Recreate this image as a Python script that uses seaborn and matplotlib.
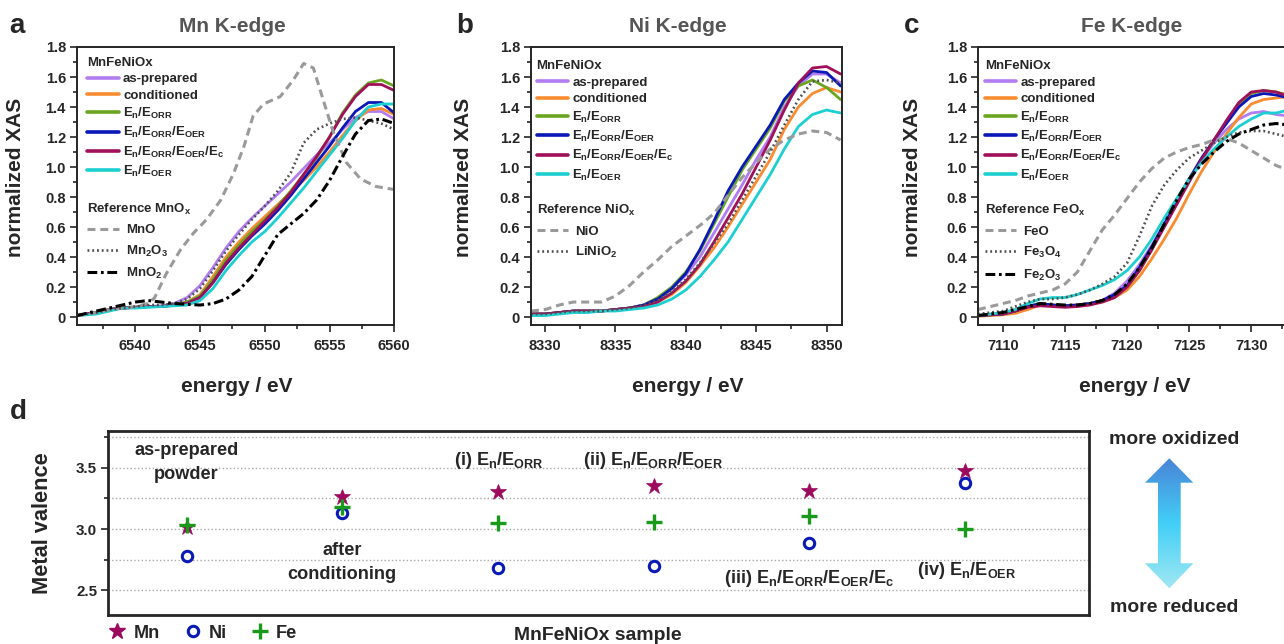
import numpy as np
import seaborn as sns
import matplotlib.pyplot as plt
from matplotlib import font_manager
from matplotlib.lines import Line2D
from matplotlib.patches import Polygon
from matplotlib.ticker import MultipleLocator, FuncFormatter
from matplotlib.colors import LinearSegmentedColormap

sns.set_theme(style="ticks")
plt.rcParams['font.family'] = ['Liberation Sans', 'DejaVu Sans']
plt.rcParams['font.weight'] = 'bold'
plt.rcParams['axes.labelweight'] = 'bold'

# narrow font for panel d (Arial Narrow look-alike if present)
_names = {f.name for f in font_manager.fontManager.ttflist}
if 'Liberation Sans Narrow' in _names:
    D_FAMILY, D_SCALE = ['Liberation Sans Narrow', 'DejaVu Sans'], 1.0
else:
    D_FAMILY, D_SCALE = ['Liberation Sans', 'DejaVu Sans'], 0.87

W, H = 1284, 644

# ---------------- data ----------------
sample_labels = ['as-prepared', 'conditioned',
                 r'E$_\mathregular{n}$/E$_\mathregular{ORR}$',
                 r'E$_\mathregular{n}$/E$_\mathregular{ORR}$/E$_\mathregular{OER}$',
                 r'E$_\mathregular{n}$/E$_\mathregular{ORR}$/E$_\mathregular{OER}$/E$_\mathregular{c}$',
                 r'E$_\mathregular{n}$/E$_\mathregular{OER}$']
sample_colors = ['#b27cf2', '#f98c30', '#6aa520', '#0a18b8', '#a0105a', '#1ccfd0']

# Mn K-edge
mn_energy = [6535.5, 6537, 6538, 6539, 6540, 6541, 6542, 6543, 6544, 6545, 6546, 6547, 6548,
             6549, 6550, 6551, 6552, 6553, 6554, 6555, 6556, 6557, 6558, 6559, 6560]
mn_asprep = [.01, .03, .05, .06, .065, .07, .075, .09, .13, .21, .33, .46, .57, .66, .74, .82, .90,
             .99, 1.08, 1.16, 1.25, 1.33, 1.37, 1.37, 1.32]
mn_cond = [.01, .03, .05, .06, .065, .07, .07, .08, .10, .15, .27, .40, .50, .59, .67, .75, .83,
           .91, 1.0, 1.1, 1.21, 1.31, 1.38, 1.39, 1.35]
mn_orr = [.01, .03, .05, .06, .065, .07, .07, .08, .10, .14, .25, .38, .48, .57, .65, .74, .84,
          .95, 1.06, 1.2, 1.36, 1.48, 1.56, 1.58, 1.54]
mn_orr_oer = [.01, .03, .05, .06, .065, .07, .07, .08, .09, .13, .23, .35, .45, .54, .62, .71, .81,
              .92, 1.03, 1.14, 1.26, 1.37, 1.43, 1.43, 1.36]
mn_orr_oer_c = [.01, .03, .05, .06, .065, .07, .07, .08, .09, .13, .23, .36, .46, .55, .64, .73, .83,
                .95, 1.07, 1.2, 1.35, 1.47, 1.55, 1.55, 1.51]
mn_oer = [.01, .02, .04, .06, .06, .065, .07, .075, .08, .11, .19, .31, .41, .50, .57, .66, .76,
          .86, .97, 1.08, 1.19, 1.31, 1.40, 1.42, 1.42]

mno_energy = [6535.5, 6537, 6538, 6539, 6540, 6541, 6541.5, 6542.4, 6543.5, 6544.5, 6545.5, 6546.6,
              6547.6, 6548.4, 6549.1, 6549.9, 6551.2, 6552.2, 6553, 6553.75, 6554.5, 6555.3,
              6556.3, 6557.4, 6558.6, 6560]
mno = [.01, .03, .05, .06, .07, .09, .13, .29, .45, .56, .65, .78, .96, 1.14, 1.34, 1.42, 1.47, 1.58,
       1.69, 1.66, 1.45, 1.23, 1.03, .92, .87, .85]
mn2o3 = [.01, .03, .05, .06, .07, .08, .08, .09, .12, .19, .31, .44, .55, .65, .74, .84, .96, 1.16,
         1.25, 1.29, 1.32, 1.33, 1.31, 1.29, 1.25]
mno2 = [.01, .04, .06, .08, .10, .11, .10, .09, .085, .08, .09, .12, .18, .27, .41, .55, .62, .69,
        .78, .91, 1.07, 1.22, 1.31, 1.32, 1.29]

# Ni K-edge
ni_energy = list(range(8329, 8352))
ni_asprep = [.02, .02, .03, .04, .04, .04, .05, .06, .08, .12, .19, .28, .40, .56, .72, .88, 1.05,
             1.2, 1.4, 1.54, 1.62, 1.62, 1.56]
ni_cond = [.02, .02, .03, .04, .04, .04, .05, .06, .07, .10, .15, .23, .34, .46, .60, .75, .90,
           1.05, 1.25, 1.40, 1.49, 1.53, 1.50]
ni_orr = [.02, .02, .03, .04, .04, .04, .05, .06, .08, .13, .20, .30, .44, .62, .80, .98, 1.12,
          1.26, 1.44, 1.54, 1.58, 1.53, 1.45]
ni_orr_oer = [.02, .02, .03, .04, .04, .04, .05, .06, .08, .12, .19, .29, .45, .64, .84, 1.0, 1.14,
              1.28, 1.45, 1.56, 1.64, 1.63, 1.54]
ni_orr_oer_c = [.02, .02, .03, .04, .04, .04, .05, .06, .07, .10, .16, .24, .35, .50, .66, .82, 1.0,
                1.18, 1.38, 1.56, 1.66, 1.67, 1.62]
ni_oer = [.01, .01, .02, .03, .03, .04, .04, .05, .06, .08, .12, .18, .27, .38, .50, .65, .80,
          .95, 1.12, 1.27, 1.35, 1.38, 1.36]
nio = [.04, .05, .08, .10, .10, .10, .14, .21, .30, .38, .47, .54, .61, .69, .81, .93, 1.03, 1.12,
       1.18, 1.22, 1.24, 1.23, 1.18]
linio2 = [.02, .02, .03, .04, .04, .04, .05, .06, .08, .11, .17, .25, .36, .49, .62, .78, .94, 1.10,
          1.28, 1.45, 1.57, 1.58, 1.56]

# Fe K-edge
fe_energy = list(range(7108, 7134))
fe_asprep = [.01, .015, .02, .04, .07, .09, .08, .075, .08, .09, .11, .16, .24, .35, .48, .62, .77,
             .92, 1.05, 1.16, 1.25, 1.32, 1.36, 1.37, 1.35, 1.34]
fe_cond = [.005, .01, .015, .025, .05, .08, .08, .075, .08, .09, .10, .13, .18, .27, .39, .52, .66,
           .82, .97, 1.1, 1.22, 1.33, 1.42, 1.45, 1.46, 1.47]
fe_orr = [.01, .015, .02, .04, .07, .09, .08, .075, .08, .09, .11, .14, .20, .31, .45, .61, .76,
          .91, 1.05, 1.18, 1.30, 1.42, 1.49, 1.51, 1.50, 1.48]
fe_orr_oer = [.01, .015, .02, .04, .07, .09, .08, .075, .08, .09, .11, .15, .21, .33, .47, .62, .77,
              .92, 1.06, 1.18, 1.29, 1.40, 1.47, 1.49, 1.48, 1.46]
fe_orr_oer_c = [.01, .015, .02, .04, .065, .075, .07, .065, .07, .08, .10, .13, .20, .31, .45, .60,
                .75, .90, 1.05, 1.18, 1.31, 1.43, 1.50, 1.51, 1.50, 1.47]
fe_oer = [.01, .02, .03, .05, .09, .12, .13, .13, .15, .18, .21, .25, .31, .40, .52, .66, .79, .92,
          1.03, 1.12, 1.20, 1.27, 1.32, 1.36, 1.36, 1.38]
feo = [.05, .07, .09, .11, .14, .16, .18, .22, .30, .44, .58, .68, .79, .90, .99, 1.06, 1.10, 1.13,
       1.15, 1.18, 1.19, 1.16, 1.11, 1.06, 1.01, .98]
fe3o4 = [.02, .03, .04, .07, .10, .12, .12, .13, .15, .18, .22, .27, .36, .54, .74, .88, .98, 1.06,
         1.11, 1.16, 1.20, 1.23, 1.24, 1.24, 1.22, 1.20]
fe2o3 = [.01, .02, .03, .05, .07, .09, .085, .08, .08, .09, .11, .15, .22, .33, .46, .62, .78, .92,
         1.02, 1.10, 1.17, 1.22, 1.25, 1.28, 1.29, 1.28]

# panel d: metal valence per sample
sample_pos = [0, 1, 2, 3, 4, 5]
mn_valence = [3.02, 3.26, 3.30, 3.35, 3.31, 3.47]
ni_valence = [2.78, 3.13, 2.68, 2.70, 2.89, 3.38]
fe_valence = [3.03, 3.18, 3.05, 3.06, 3.11, 3.00]
sample_names = ['as-prepared\npowder', 'after\nconditioning',
                r'(i) E$_\mathregular{n}$/E$_\mathregular{ORR}$',
                r'(ii) E$_\mathregular{n}$/E$_\mathregular{ORR}$/E$_\mathregular{OER}$',
                r'(iii) E$_\mathregular{n}$/E$_\mathregular{ORR}$/E$_\mathregular{OER}$/E$_\mathregular{c}$',
                r'(iv) E$_\mathregular{n}$/E$_\mathregular{OER}$']

REF_STYLES = [dict(color='#9a9a9a', lw=2.2, ls=(0, (2.6, 1.6))),
              dict(color='#505050', lw=1.9, ls=(0, (0.7, 1.1))),
              dict(color='black', lw=2.2, ls=(0, (3.2, 1.2, 0.9, 1.2)))]


def fx(x):
    return x / W


def fy(y):
    return 1 - y / H


def xas_panel(ax, energy, samples, ref_energies, refs, ref_names, ref_title,
              xlim, leg_x, leg_y1, leg_y2, ylab_x):
    for vals, col in zip(samples, sample_colors):
        sns.lineplot(x=energy, y=vals, ax=ax, color=col, linewidth=2.0)
    for e, vals, st in zip(ref_energies, refs, REF_STYLES):
        sns.lineplot(x=e, y=vals, ax=ax, color=st['color'], linewidth=st['lw'], linestyle=st['ls'])

    ax.set_xlim(*xlim)
    ax.set_ylim(-0.053, 1.8)
    ax.xaxis.set_major_locator(MultipleLocator(5))
    ax.xaxis.set_minor_locator(MultipleLocator(2.5))
    ax.yaxis.set_major_locator(MultipleLocator(0.2))
    ax.yaxis.set_minor_locator(MultipleLocator(0.1))
    ax.yaxis.set_major_formatter(FuncFormatter(lambda v, _: '0' if abs(v) < 1e-9 else f'{v:.1f}'))
    ax.tick_params(which='both', direction='out', labelsize=10.5, width=1.2)
    ax.tick_params(axis='x', pad=5)
    ax.tick_params(axis='y', pad=3)
    ax.tick_params(which='major', length=5)
    ax.tick_params(which='minor', length=3)
    for s in ax.spines.values():
        s.set_linewidth(1.4)
        s.set_visible(True)
    ax.set_xlabel('energy / eV', fontsize=15)
    ax.set_ylabel('normalized XAS', fontsize=15)
    ax.xaxis.set_label_coords(0.505, -0.187)
    ax.yaxis.set_label_coords(ylab_x, 0.53)

    h1 = [Line2D([], [], color=c, lw=2.6) for c in sample_colors]
    leg1 = ax.legend(h1, sample_labels, title='MnFeNiOx', loc='upper left',
                     bbox_to_anchor=(leg_x, leg_y1), frameon=False, fontsize=9.5,
                     title_fontproperties={'weight': 'bold', 'size': 9.5}, alignment='left',
                     handlelength=2.4, handletextpad=0.3, labelspacing=0.32,
                     borderpad=0, borderaxespad=0)
    ax.add_artist(leg1)
    h2 = [Line2D([], [], color=st['color'], lw=st['lw'], ls=st['ls']) for st in REF_STYLES[:len(refs)]]
    ax.legend(h2, ref_names, title=ref_title, loc='upper left',
              bbox_to_anchor=(leg_x, leg_y2), frameon=False, fontsize=9.5,
              title_fontproperties={'weight': 'bold', 'size': 9.5}, alignment='left',
              handlelength=2.4, handletextpad=0.5, labelspacing=0.55,
              borderpad=0, borderaxespad=0)


fig = plt.figure(figsize=(W / 100, H / 100), dpi=100)

# ---- a: Mn K-edge
ax_a = fig.add_axes([fx(77), fy(325), (394.3 - 77) / W, 278 / H])
xas_panel(ax_a, mn_energy,
          [mn_asprep, mn_cond, mn_orr, mn_orr_oer, mn_orr_oer_c, mn_oer],
          [mno_energy, mn_energy, mn_energy], [mno, mn2o3, mno2],
          ['MnO', r'Mn$_\mathregular{2}$O$_\mathregular{3}$', r'MnO$_\mathregular{2}$'],
          r'Reference MnO$_\mathregular{x}$', (6535.5, 6560), 0.033, 0.965, 0.443, -0.164)

# ---- b: Ni K-edge
ax_b = fig.add_axes([fx(531), fy(325), 311 / W, 278 / H])
xas_panel(ax_b, ni_energy,
          [ni_asprep, ni_cond, ni_orr, ni_orr_oer, ni_orr_oer_c, ni_oer],
          [ni_energy, ni_energy], [nio, linio2],
          ['NiO', r'LiNiO$_\mathregular{2}$'],
          r'Reference NiO$_\mathregular{x}$', (8329.0, 8351.1), 0.018, 0.952, 0.438, -0.186)

# ---- c: Fe K-edge (right edge runs past the figure border)
ax_c = fig.add_axes([fx(978), fy(325), 310.5 / W, 278 / H])
xas_panel(ax_c, fe_energy,
          [fe_asprep, fe_cond, fe_orr, fe_orr_oer, fe_orr_oer_c, fe_oer],
          [fe_energy, fe_energy, fe_energy], [feo, fe3o4, fe2o3],
          ['FeO', r'Fe$_\mathregular{3}$O$_\mathregular{4}$', r'Fe$_\mathregular{2}$O$_\mathregular{3}$'],
          r'Reference FeO$_\mathregular{x}$', (7108.0, 7133.0), 0.022, 0.952, 0.438, -0.18)

for x, t in [(232, 'Mn K-edge'), (678, 'Ni K-edge'), (1132, 'Fe K-edge')]:
    fig.text(fx(x), fy(26), t, ha='center', va='center', fontsize=15, color='#555555', fontweight='bold')
for x, y, t in [(17, 26, 'a'), (465, 26, 'b'), (912, 26, 'c'), (18, 412, 'd')]:
    fig.text(fx(x), fy(y), t, ha='center', va='center', fontsize=20, fontweight='bold')

# ---- d: metal valence
dfont = dict(family=D_FAMILY, weight='bold')
ax_d = fig.add_axes([fx(108.3), fy(615), (1089.3 - 108.3) / W, 184 / H])
mn_col, ni_col, fe_col = '#9c0a5e', '#0a1ab5', '#1a9a1a'
sns.lineplot(x=sample_pos, y=mn_valence, ax=ax_d, color=mn_col, linestyle='', marker='*',
             markersize=12, mec=mn_col, mew=0.5)
sns.lineplot(x=sample_pos, y=ni_valence, ax=ax_d, color=ni_col, linestyle='', marker='o',
             markersize=7.5, markerfacecolor='none', mec=ni_col, mew=2.2)
sns.lineplot(x=sample_pos, y=fe_valence, ax=ax_d, color=fe_col, linestyle='', marker='+',
             markersize=11, mec=fe_col, mew=2.4)
ax_d.set_xlim(-0.503, 5.8)
ax_d.set_ylim(2.3, 3.8)
ax_d.set_xticks([])
ax_d.yaxis.set_major_locator(MultipleLocator(0.5))
ax_d.yaxis.set_minor_locator(MultipleLocator(0.25))
ax_d.yaxis.set_major_formatter(FuncFormatter(lambda v, _: f'{v:.1f}'))
ax_d.grid(axis='y', which='both', linestyle=':', color='#aaaaaa', linewidth=1.0)
ax_d.set_axisbelow(True)
ax_d.tick_params(axis='y', which='both', direction='out', width=1.2, pad=3)
ax_d.tick_params(axis='y', which='major', length=5)
ax_d.tick_params(axis='y', which='minor', length=3)
for lab in ax_d.get_yticklabels():
    lab.set_fontfamily(D_FAMILY)
    lab.set_fontsize(12.5 * D_SCALE)
for s in ax_d.spines.values():
    s.set_linewidth(2.0)
    s.set_visible(True)
ax_d.set_ylabel('Metal valence', fontsize=18 * D_SCALE, **dfont)
ax_d.yaxis.set_label_coords((53 - 108.3) / 981, 0.5)

# sample names inside the panel
name_xy = [(0, 3.54), (1, 2.73), (2.01, 3.56), (3.0, 3.56), (4.0, 2.60), (5.01, 2.665)]
for (x, y), t in zip(name_xy, sample_names):
    ax_d.text(x, y, t, ha='center', va='center', fontsize=15 * D_SCALE, linespacing=1.55, **dfont)

fig.text(fx(598), fy(635), 'MnFeNiOx sample', ha='center', va='center', fontsize=16 * D_SCALE, **dfont)

hd = [Line2D([], [], ls='', marker='*', color=mn_col, ms=12),
      Line2D([], [], ls='', marker='o', mfc='none', mec=ni_col, mew=2.2, ms=7.5),
      Line2D([], [], ls='', marker='+', color=fe_col, mew=2.4, ms=11)]
ax_d.legend(hd, ['Mn', 'Ni', 'Fe'], loc='center left', bbox_to_anchor=(0.0, -0.098), ncol=3,
            frameon=False, handlelength=1.0, handletextpad=0.4, columnspacing=1.3,
            borderpad=0, borderaxespad=0,
            prop=font_manager.FontProperties(family=D_FAMILY, weight='bold', size=15 * D_SCALE))

# ---- gradient double arrow (oxidation direction)
ax_arr = fig.add_axes([fx(1140), fy(592), 60 / W, 137 / H])
ax_arr.set_xlim(1140, 1200)
ax_arr.set_ylim(592, 455)
ax_arr.axis('off')
arrow = Polygon([(1169.3, 458.3), (1193.3, 482.7), (1180.7, 482.7), (1180.7, 563.3), (1193.3, 563.3),
                 (1169.3, 588.3), (1145, 563.3), (1158, 563.3), (1158, 482.7), (1145, 482.7)],
                closed=True, facecolor='none', edgecolor='none')
ax_arr.add_patch(arrow)
cmap = LinearSegmentedColormap.from_list('ox', ['#4a80d6', '#42cff7', '#a6e9f2'])
grad = np.linspace(0, 1, 256).reshape(-1, 1)
img = ax_arr.imshow(grad, cmap=cmap, extent=(1140, 1200, 592, 455), aspect='auto', origin='upper')
img.set_clip_path(arrow)
fig.text(fx(1174), fy(440), 'more oxidized', ha='center', va='center', fontsize=16 * D_SCALE, **dfont)
fig.text(fx(1174), fy(607), 'more reduced', ha='center', va='center', fontsize=16 * D_SCALE, **dfont)

fig.savefig('out.png', dpi=100)
